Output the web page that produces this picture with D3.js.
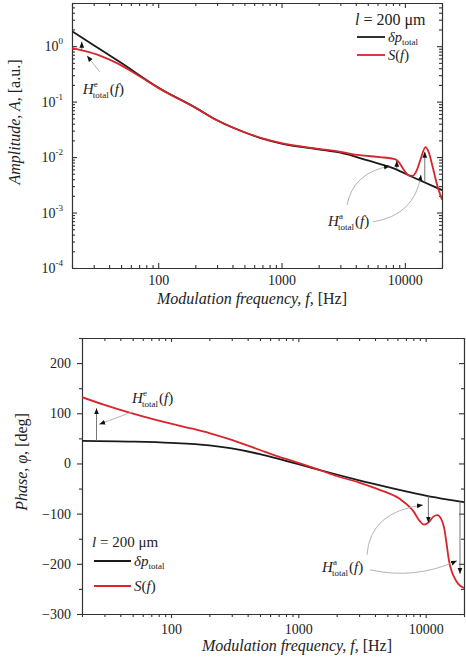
<!DOCTYPE html>
<html>
<head>
<meta charset="utf-8">
<script src="https://cdn.jsdelivr.net/npm/d3@7"></script>
<style>
  body { margin: 0; background: #fff; }
  svg { display: block; }
  text { font-family: "Liberation Serif", "Times New Roman", serif; fill: #222; }
</style>
</head>
<body>
<div id="wrapper"></div>
<script>
// ---- amplitude panel (top) ----
const ampFreqBlack = [20, 30, 50, 100, 200, 300, 500, 700, 1000, 2000, 3000, 5000, 8000, 12000, 20000];
const ampBlack = [1.86, 1.04, 0.50, 0.18, 0.078, 0.046, 0.028, 0.0215, 0.0175, 0.0138, 0.0120, 0.0087, 0.0063, 0.0042, 0.00254];
const ampFreqRed = [20, 25, 34, 45, 59, 78, 100, 200, 300, 500, 700, 1000, 2000, 3000, 4300, 6300, 8300, 8900, 9800, 10700, 11600, 12500, 13500, 14700, 15600, 16900, 18300, 20000];
const ampRed = [0.92, 0.82, 0.67, 0.51, 0.365, 0.25, 0.177, 0.078, 0.046, 0.028, 0.0218, 0.0178, 0.0141, 0.0124, 0.0108, 0.0100, 0.0092, 0.0082, 0.0059, 0.0047, 0.0046, 0.0058, 0.0096, 0.0151, 0.0123, 0.0063, 0.0031, 0.0017];

// ---- phase panel (bottom) ----
const phFreqBlack = [20, 50, 100, 200, 300, 500, 700, 1000, 2000, 3000, 5000, 7000, 10000, 15000, 20000];
const phBlack = [45, 43.5, 41, 36, 30, 18.5, 9, -1.5, -22, -33.5, -47, -55.5, -64, -72, -77];
const phFreqRed = [20, 30, 40, 60, 80, 100, 150, 200, 300, 500, 700, 1000, 1500, 2000, 3000, 4400, 6200, 8000, 9000, 9700, 10500, 11500, 12300, 13200, 14000, 14600, 15200, 16000, 16700, 18000, 20000];
const phRed = [132, 116.7, 106.7, 93.8, 85.4, 79.3, 68.7, 60.5, 46.8, 26.8, 13.7, 1.3, -14, -25, -38, -53, -70, -95, -115, -122, -118, -106, -103, -110, -130, -160, -192, -215, -226, -240, -248];

// tick labels
const freqLabels = [100, 1000, 10000];
const ampLabels = [1e-4, 1e-3, 1e-2, 1e-1, 1];
const phLabels = [-300, -200, -100, 0, 100, 200];
const phMinor = [-250, -150, -50, 50, 150, 250];

// annotation anchors, in data units
const ampArrows = [{ f: 24, from: 0.86, to: 1.2 }, { f: 8600, from: 0.0060, to: 0.0086 }, { f: 14500, from: 0.0035, to: 0.0125 }];
const ampLeaders = [
  { p0: [33.7, 0.34], p1: [26.5, 0.67] },
  { p0: [3400, 0.00137], c: [3800, 0.0052], p1: [7570, 0.0069] },
  { p0: [5520, 0.00068], c: [12100, 0.0009], p1: [13500, 0.0048] }
];
const phArrows = [{ f: 26, from: 44.5, to: 110 }, { f: 10500, from: -64, to: -118 }, { f: 18600, from: -76, to: -220 }];
const phLeaders = [
  { p0: [50, 103], p1: [27.3, 78] },
  { p0: [3460, -182], c: [3660, -96], p1: [9530, -83] },
  { p0: [3650, -212], c: [8240, -232], p1: [17600, -194] }
];

const red = "#d8242b";
const ink = "#1a1a1a";

const svg = d3.select("#wrapper")
  .append("svg")
  .attr("width", 466)
  .attr("height", 658);

const defs = svg.append("defs");
defs.append("marker")
  .attr("id", "arrow")
  .attr("viewBox", "0 0 10 10")
  .attr("refX", 10)
  .attr("refY", 5)
  .attr("markerWidth", 6)
  .attr("markerHeight", 6)
  .attr("markerUnits", "userSpaceOnUse")
  .attr("orient", "auto")
  .append("path")
  .attr("d", "M0,1L10,5L0,9z")
  .attr("fill", "#111");

const isDecade = d => Math.abs(Math.log10(d) - Math.round(Math.log10(d))) < 1e-6;

function styleAxis(g) {
  g.selectAll("path, line").attr("stroke", "#333").attr("stroke-width", 1.1);
  g.selectAll("text")
    .attr("font-family", "Liberation Serif, Times New Roman, serif")
    .attr("font-size", 14)
    .attr("fill", "#222");
}

// H^x_total(f) label
function hLabel(g, x, y, sup) {
  const t = g.append("text").attr("x", x).attr("y", y).attr("font-size", 15);
  t.append("tspan").attr("font-style", "italic").text("H");
  g.append("text").attr("x", x + 11).attr("y", y - 7).attr("font-size", 9).text(sup);
  g.append("text").attr("x", x + 10).attr("y", y + 4).attr("font-size", 9).text("total");
  const t2 = g.append("text").attr("x", x + 27).attr("y", y).attr("font-size", 15);
  t2.append("tspan").text("(");
  t2.append("tspan").attr("font-style", "italic").text("f");
  t2.append("tspan").text(")");
}

function legend(g, x, y, sampleLen, gap, size, rowSize) {
  const t = g.append("text").attr("x", x).attr("y", y).attr("font-size", size);
  t.append("tspan").attr("font-style", "italic").text("l");
  t.append("tspan").text(" = 200 μm");
  const rows = [{ c: ink, dy: gap[0] }, { c: red, dy: gap[1] }];
  rows.forEach((r, i) => {
    g.append("line")
      .attr("x1", x + 2).attr("x2", x + 2 + sampleLen)
      .attr("y1", y + r.dy - 5).attr("y2", y + r.dy - 5)
      .attr("stroke", r.c).attr("stroke-width", 1.8);
    const lt = g.append("text").attr("x", x + 5 + sampleLen).attr("y", y + r.dy).attr("font-size", rowSize);
    if (i === 0) {
      lt.append("tspan").attr("font-style", "italic").text("δp");
      lt.append("tspan").attr("font-size", 9).attr("dy", 2.5).text("total");
    } else {
      lt.append("tspan").attr("font-style", "italic").text("S");
      lt.append("tspan").text("(");
      lt.append("tspan").attr("font-style", "italic").text("f");
      lt.append("tspan").text(")");
    }
  });
}

function drawAnnotations(g, x, y, arrows, leaders) {
  g.selectAll(".varrow")
    .data(arrows)
    .enter()
    .append("line")
    .attr("x1", d => x(d.f)).attr("x2", d => x(d.f))
    .attr("y1", d => y(d.from)).attr("y2", d => y(d.to))
    .attr("stroke", "#666").attr("stroke-width", 0.9)
    .attr("marker-end", "url(#arrow)");
  g.selectAll(".leader")
    .data(leaders)
    .enter()
    .append("path")
    .attr("d", d => {
      const a = [x(d.p0[0]), y(d.p0[1])];
      const b = [x(d.p1[0]), y(d.p1[1])];
      if (!d.c) return `M${a}L${b}`;
      return `M${a}Q${x(d.c[0])},${y(d.c[1])} ${b}`;
    })
    .attr("fill", "none")
    .attr("stroke", "#aaa").attr("stroke-width", 0.9)
    .attr("marker-end", "url(#arrow)");
}

// ================= top panel =================
const topDim = { left: 72, right: 442, top: 3, bottom: 268 };
const xTop = d3.scaleLog().domain([20, 20000]).range([topDim.left, topDim.right]);
const yTop = d3.scaleLog().domain([1e-4, 6]).range([topDim.bottom, topDim.top]);

const topG = svg.append("g");
defs.append("clipPath").attr("id", "clipTop").append("rect")
  .attr("x", topDim.left).attr("y", topDim.top)
  .attr("width", topDim.right - topDim.left).attr("height", topDim.bottom - topDim.top);

const xTicksTop = xTop.ticks();
const yTicksTop = yTop.ticks();

// bottom x axis
topG.append("g").attr("transform", `translate(0,${topDim.bottom})`)
  .call(d3.axisBottom(xTop).tickValues(freqLabels).tickSizeInner(-5).tickSizeOuter(0).tickPadding(7).tickFormat(d3.format("d")))
  .call(styleAxis);
topG.append("g").attr("transform", `translate(0,${topDim.bottom})`)
  .call(d3.axisBottom(xTop).tickValues(xTicksTop.filter(d => !isDecade(d))).tickSizeInner(-3).tickSizeOuter(0).tickFormat(""))
  .call(styleAxis);
// top x axis (mirror)
topG.append("g").attr("transform", `translate(0,${topDim.top})`)
  .call(d3.axisTop(xTop).tickValues(freqLabels).tickSizeInner(-5).tickSizeOuter(0).tickFormat(""))
  .call(styleAxis);
topG.append("g").attr("transform", `translate(0,${topDim.top})`)
  .call(d3.axisTop(xTop).tickValues(xTicksTop.filter(d => !isDecade(d))).tickSizeInner(-3).tickSizeOuter(0).tickFormat(""))
  .call(styleAxis);
// left y axis
topG.append("g").attr("transform", `translate(${topDim.left},0)`)
  .call(d3.axisLeft(yTop).tickValues(ampLabels).tickSizeInner(-5).tickSizeOuter(0).tickFormat(""))
  .call(styleAxis);
topG.append("g").attr("transform", `translate(${topDim.left},0)`)
  .call(d3.axisLeft(yTop).tickValues(yTicksTop.filter(d => !isDecade(d))).tickSizeInner(-3).tickSizeOuter(0).tickFormat(""))
  .call(styleAxis);
// right y axis
topG.append("g").attr("transform", `translate(${topDim.right},0)`)
  .call(d3.axisRight(yTop).tickValues(ampLabels).tickSizeInner(-5).tickSizeOuter(0).tickFormat(""))
  .call(styleAxis);
topG.append("g").attr("transform", `translate(${topDim.right},0)`)
  .call(d3.axisRight(yTop).tickValues(yTicksTop.filter(d => !isDecade(d))).tickSizeInner(-3).tickSizeOuter(0).tickFormat(""))
  .call(styleAxis);

// y labels 10^n
const yLab = topG.selectAll(".ylab")
  .data(ampLabels)
  .enter()
  .append("text")
  .attr("x", topDim.left - 9)
  .attr("y", d => yTop(d) + 5)
  .attr("text-anchor", "end")
  .attr("font-size", 14);
yLab.append("tspan").text("10");
yLab.append("tspan").attr("font-size", 9).attr("dy", -7).text(d => String(Math.round(Math.log10(d))));

const lineTop = d3.line()
  .x(d => xTop(d[0]))
  .y(d => yTop(d[1]))
  .curve(d3.curveMonotoneX);

const curvesTop = topG.append("g").attr("clip-path", "url(#clipTop)");
curvesTop.append("path")
  .datum(d3.zip(ampFreqBlack, ampBlack))
  .attr("d", lineTop)
  .attr("fill", "none").attr("stroke", ink).attr("stroke-width", 1.8);
curvesTop.append("path")
  .datum(d3.zip(ampFreqRed, ampRed))
  .attr("d", lineTop)
  .attr("fill", "none").attr("stroke", red).attr("stroke-width", 1.8);

drawAnnotations(topG, xTop, yTop, ampArrows, ampLeaders);
hLabel(topG, xTop(24.5), yTop(0.14), "e");
hLabel(topG, xTop(2380), yTop(0.00057), "a");
legend(topG, 355, 25, 28, [17, 35], 16, 14.5);

const xTitleTop = topG.append("text").attr("x", 252).attr("y", 304).attr("text-anchor", "middle").attr("font-size", 16);
xTitleTop.append("tspan").attr("font-style", "italic").text("Modulation frequency, f, ");
xTitleTop.append("tspan").text("[Hz]");
const yTitleTop = topG.append("text").attr("transform", "translate(20,122) rotate(-90)").attr("text-anchor", "middle").attr("font-size", 16);
yTitleTop.append("tspan").attr("font-style", "italic").text("Amplitude, A, ");
yTitleTop.append("tspan").text("[a.u.]");

// ================= bottom panel =================
const botDim = { left: 82, right: 464, top: 338, bottom: 614 };
const xBot = d3.scaleLog().domain([20, 20000]).range([botDim.left, botDim.right]);
const yBot = d3.scaleLinear().domain([-300, 250]).range([botDim.bottom, botDim.top]);

const botG = svg.append("g");
defs.append("clipPath").attr("id", "clipBot").append("rect")
  .attr("x", botDim.left).attr("y", botDim.top)
  .attr("width", botDim.right - botDim.left).attr("height", botDim.bottom - botDim.top);

const xTicksBot = xBot.ticks();

botG.append("g").attr("transform", `translate(0,${botDim.bottom})`)
  .call(d3.axisBottom(xBot).tickValues(freqLabels).tickSizeInner(4).tickSizeOuter(0).tickPadding(6).tickFormat(d3.format("d")))
  .call(styleAxis);
botG.append("g").attr("transform", `translate(0,${botDim.bottom})`)
  .call(d3.axisBottom(xBot).tickValues(xTicksBot.filter(d => !isDecade(d))).tickSizeInner(3).tickSizeOuter(0).tickFormat(""))
  .call(styleAxis);
botG.append("g").attr("transform", `translate(0,${botDim.top})`)
  .call(d3.axisTop(xBot).tickValues(freqLabels).tickSizeInner(-4).tickSizeOuter(0).tickFormat(""))
  .call(styleAxis);
botG.append("g").attr("transform", `translate(0,${botDim.top})`)
  .call(d3.axisTop(xBot).tickValues(xTicksBot.filter(d => !isDecade(d))).tickSizeInner(-3).tickSizeOuter(0).tickFormat(""))
  .call(styleAxis);
botG.append("g").attr("transform", `translate(${botDim.left},0)`)
  .call(d3.axisLeft(yBot).tickValues(phLabels).tickSizeInner(5).tickSizeOuter(0).tickPadding(6).tickFormat(d3.format("d")))
  .call(styleAxis);
botG.append("g").attr("transform", `translate(${botDim.left},0)`)
  .call(d3.axisLeft(yBot).tickValues(phMinor).tickSizeInner(3).tickSizeOuter(0).tickFormat(""))
  .call(styleAxis);
botG.append("g").attr("transform", `translate(${botDim.right},0)`)
  .call(d3.axisRight(yBot).tickValues(phLabels).tickSizeInner(-5).tickSizeOuter(0).tickFormat(""))
  .call(styleAxis);
botG.append("g").attr("transform", `translate(${botDim.right},0)`)
  .call(d3.axisRight(yBot).tickValues(phMinor).tickSizeInner(-3).tickSizeOuter(0).tickFormat(""))
  .call(styleAxis);

const lineBot = d3.line()
  .x(d => xBot(d[0]))
  .y(d => yBot(d[1]))
  .curve(d3.curveMonotoneX);

const curvesBot = botG.append("g").attr("clip-path", "url(#clipBot)");
curvesBot.append("path")
  .datum(d3.zip(phFreqBlack, phBlack))
  .attr("d", lineBot)
  .attr("fill", "none").attr("stroke", ink).attr("stroke-width", 1.8);
curvesBot.append("path")
  .datum(d3.zip(phFreqRed, phRed))
  .attr("d", lineBot)
  .attr("fill", "none").attr("stroke", red).attr("stroke-width", 1.8);

drawAnnotations(botG, xBot, yBot, phArrows, phLeaders);
hLabel(botG, xBot(49.4), yBot(120.6), "e");
hLabel(botG, xBot(1535), yBot(-216), "a");
legend(botG, 92, 547, 37, [19, 44], 15, 15);

const xTitleBot = botG.append("text").attr("x", 297).attr("y", 651).attr("text-anchor", "middle").attr("font-size", 16);
xTitleBot.append("tspan").attr("font-style", "italic").text("Modulation frequency, f, ");
xTitleBot.append("tspan").text("[Hz]");
const yTitleBot = botG.append("text").attr("transform", "translate(27,462) rotate(-90)").attr("text-anchor", "middle").attr("font-size", 16);
yTitleBot.append("tspan").attr("font-style", "italic").text("Phase, φ, ");
yTitleBot.append("tspan").text("[deg]");
</script>
</body>
</html>
